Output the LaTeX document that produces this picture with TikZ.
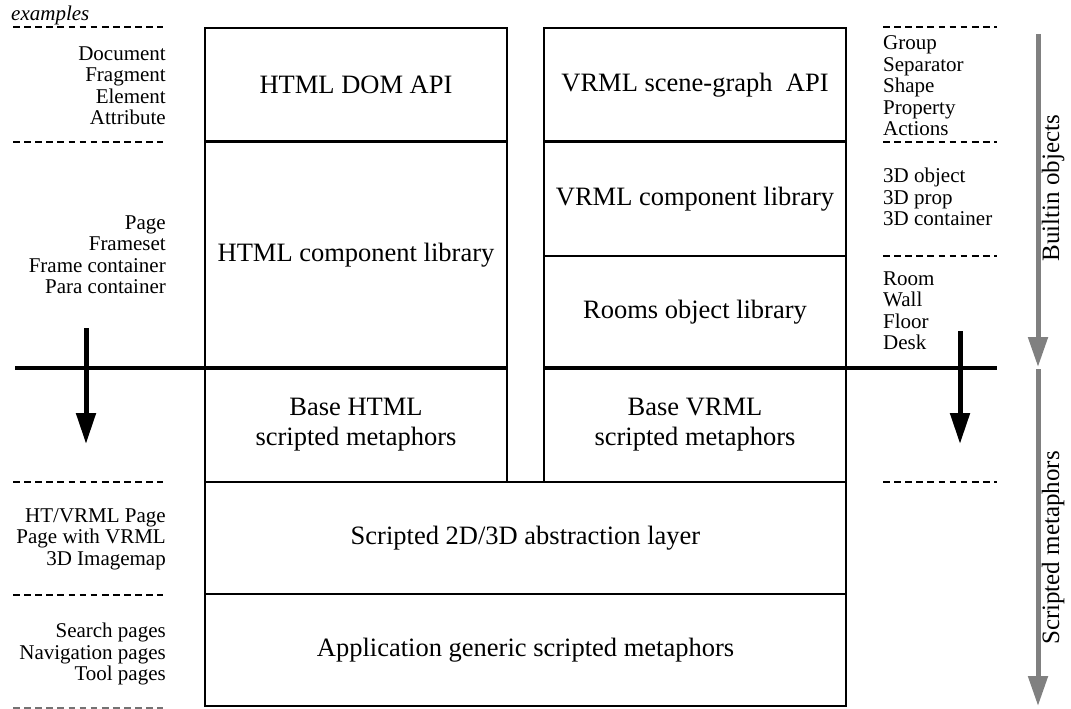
\documentclass[tikz,border=0pt]{standalone}
\usepackage{fontspec}
\setmainfont{Liberation Serif}
\usetikzlibrary{arrows.meta}
\definecolor{phasegray}{gray}{0.5}

\begin{document}
\begin{tikzpicture}[x=1pt,y=-1pt,
  cell/.style={draw, line width=2.2pt, inner sep=0pt, minimum width=302pt,
    font=\fontsize{26.5}{30}\selectfont, align=center},
  wide/.style={cell, minimum width=641pt},
  sep/.style={line width=2.5pt, dash pattern=on 6.7pt off 4.4pt},
  divider/.style={line width=4.6pt},
  flow/.style={line width=5pt, -{Triangle[width=19pt,length=31pt]}},
  phase/.style={line width=5pt, draw=phasegray, -{Triangle[width=19pt,length=30pt,fill=phasegray]}},
  lefttext/.style={font=\fontsize{21}{21.5}\selectfont, inner sep=0pt, align=right, anchor=east},
  righttext/.style={font=\fontsize{21}{21.5}\selectfont, inner sep=0pt, align=left, anchor=west},
  phaselabel/.style={font=\fontsize{25}{25}\selectfont, inner sep=0pt, rotate=90}
]
\fill[white] (0,0) rectangle (1071,709);
\useasboundingbox (0,0) rectangle (1071,709);

% HTML column
\node[cell, minimum height=113.5pt] (htmlapi)  at (356,84.75)  {HTML DOM API};
\node[cell, minimum height=226.5pt] (htmlcomp) at (356,254.75) {HTML component library};
\node[cell, minimum height=114pt]   (htmlbase) at (356,425)    {Base HTML\\scripted metaphors};

% VRML column
\node[cell, minimum height=113.5pt] (vrmlapi)  at (695,84.75)  {VRML scene-graph~ API};
\node[cell, minimum height=114.5pt] (vrmlcomp) at (695,198.75) {VRML component library};
\node[cell, minimum height=112pt]   (rooms)    at (695,312)    {Rooms object library};
\node[cell, minimum height=114pt]   (vrmlbase) at (695,425)    {Base VRML\\scripted metaphors};

% shared layers
\node[wide, minimum height=112pt] (abstr) at (525.5,538) {Scripted 2D/3D abstraction layer};
\node[wide, minimum height=112pt] (app)   at (525.5,650) {Application generic scripted metaphors};

% example separators, left
\coordinate (l0a) at (13,27);  \coordinate (l0b) at (163,27);
\coordinate (l1a) at (13,142); \coordinate (l1b) at (163,142);
\coordinate (l2a) at (13,482); \coordinate (l2b) at (163,482);
\coordinate (l3a) at (13,595); \coordinate (l3b) at (163,595);
\coordinate (l4a) at (13,708.5); \coordinate (l4b) at (163,708.5);
\foreach \n in {l0,l1,l2,l3} \draw[sep] (\n a) -- (\n b);
\draw[sep, draw=black!55] (l4a) -- (l4b);

% example separators, right
\coordinate (r0a) at (883,27);  \coordinate (r0b) at (997,27);
\coordinate (r1a) at (883,142); \coordinate (r1b) at (997,142);
\coordinate (r2a) at (883,256); \coordinate (r2b) at (997,256);
\coordinate (r3a) at (883,482); \coordinate (r3b) at (997,482);
\foreach \n in {r0,r1,r2,r3} \draw[sep] (\n a) -- (\n b);

% examples
\node[font=\fontsize{21}{21}\selectfont\itshape, inner sep=0pt, anchor=base west] (extitle) at (11,21) {examples};
\node[lefttext] (exdom)  at (166,85.5) {Document\\Fragment\\Element\\Attribute};
\node[lefttext] (expage) at (166,254.5) {Page\\Frameset\\Frame container\\Para container};
\node[lefttext] (exht)   at (166,539)  {HT/VRML Page\\Page with VRML\\3D Imagemap};
\node[lefttext] (exapp)  at (166,654)  {Search pages\\Navigation pages\\Tool pages};
\node[righttext] (exvrml) at (883,86)    {Group\\Separator\\Shape\\Property\\Actions};
\node[righttext] (ex3d)   at (883,197)   {3D object\\3D prop\\3D container};
\node[righttext] (exroom) at (883,310.5) {Room\\Wall\\Floor\\Desk};

% builtin / scripted boundary
\coordinate (bl) at (15,368);  \coordinate (blm) at (507,368);
\coordinate (brm) at (544,368); \coordinate (br) at (997,368);
\draw[divider] (bl) -- (blm);
\draw[divider] (brm) -- (br);

% downward flow arrows
\coordinate (fla) at (86,328);  \coordinate (flb) at (86,444);
\coordinate (fra) at (960,331); \coordinate (frb) at (960,444);
\draw[flow] (fla) -- (flb);
\draw[flow] (fra) -- (frb);

% phase arrows and labels
\coordinate (p1a) at (1038,34);  \coordinate (p1b) at (1038,367);
\coordinate (p2a) at (1038,369); \coordinate (p2b) at (1038,706);
\draw[phase] (p1a) -- (p1b);
\draw[phase] (p2a) -- (p2b);
\node[phaselabel] (builtin)  at (1053,188) {Builtin objects};
\node[phaselabel] (scripted) at (1053,548) {Scripted metaphors};
\end{tikzpicture}
\end{document}
